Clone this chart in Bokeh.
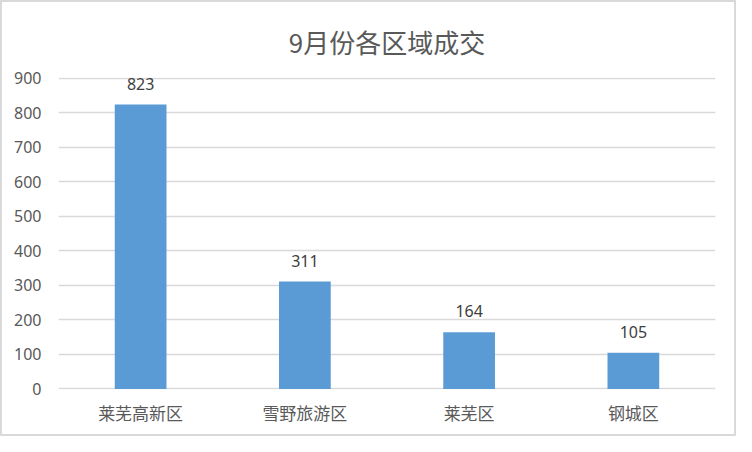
from bokeh.plotting import figure
from bokeh.models import ColumnDataSource, LabelSet, FactorRange, Range1d, SingleIntervalTicker
from bokeh.core.properties import value
from bokeh.embed import file_html
from bokeh.resources import INLINE

categories = ["莱芜高新区", "雪野旅游区", "莱芜区", "钢城区"]
values = [823, 311, 164, 105]
title_text = "9月份各区域成交"

src = ColumnDataSource(dict(cat=categories, val=values, lab=[str(v) for v in values]))

p = figure(width=736, height=436, x_range=FactorRange(*categories), y_range=Range1d(-1.5, 901.5),
           output_backend="svg", toolbar_location=None,
           min_border_left=56, min_border_right=23, min_border_bottom=49, min_border_top=0)
p.title.text = title_text
p.title.align = "center"
p.title.text_font = "Noto Sans CJK SC"
p.title.text_font_size = "26px"
p.title.text_font_style = "normal"
p.title.text_color = "#595959"
p.title.standoff = 36

p.vbar(x="cat", top="val", width=0.315, source=src, color="#5B9BD5", line_color=None)

labels = LabelSet(x="cat", y="val", text="lab", source=src, text_align="center",
                  text_baseline="middle", y_offset=21, text_font_size="16px",
                  text_color="#404040", text_font=value("Noto Sans"))
p.add_layout(labels)

p.yaxis.ticker = SingleIntervalTicker(interval=100)
p.ygrid.ticker = SingleIntervalTicker(interval=100)
p.ygrid.grid_line_color = "#D9D9D9"
p.ygrid.grid_line_width = 1.3
p.xgrid.grid_line_color = None
for ax in (p.xaxis, p.yaxis):
    ax.axis_line_color = None
    ax.major_tick_line_color = None
    ax.minor_tick_line_color = None
    ax.major_label_text_color = "#595959"
p.yaxis.major_label_text_font_size = "16px"
p.xaxis.major_label_text_font_size = "17px"
p.yaxis.major_label_text_font = "Noto Sans"
p.xaxis.major_label_text_font = "Noto Sans CJK SC"
p.xaxis.major_label_standoff = 4
p.yaxis.major_label_standoff = 11
p.outline_line_color = None
p.styles = {"border": "2px solid #D9D9D9", "box-sizing": "border-box"}

open("out.html", "w").write(file_html(p, INLINE))
